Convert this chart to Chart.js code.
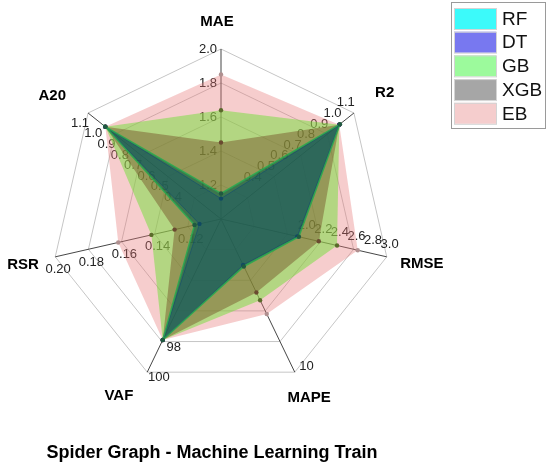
<!DOCTYPE html>
<html>
<head>
<meta charset="utf-8">
<script src="https://cdn.jsdelivr.net/npm/chart.js@4"></script>
<style>
  html, body { margin: 0; padding: 0; background: #fff; }
  #wrap { width: 550px; height: 473px; }
</style>
</head>
<body>
<div id="wrap"><canvas id="chartCanvas"></canvas></div>
<script>
// Axes, clockwise from the top, each with its own range
var axes = ['MAE', 'R2', 'RMSE', 'MAPE', 'VAF', 'RSR', 'A20']
var axisMin = [1.0, 0.1, 1.0, 0, 90, 0.10, 0.1]
var axisMax = [2.0, 1.1, 3.0, 10, 100, 0.20, 1.1]

// Tick labels per axis (the ones that can be read in the picture)
var maeTicks = [1.2, 1.4, 1.6, 1.8, 2.0]
var r2Ticks = [0.4, 0.5, 0.6, 0.7, 0.8, 0.9, 1.0, 1.1]
var rmseTicks = [2.0, 2.2, 2.4, 2.6, 2.8, 3.0]
var mapeTicks = [10]
var vafTicks = [98, 100]
var rsrTicks = [0.12, 0.14, 0.16, 0.18, 0.20]
var a20Ticks = [0.4, 0.5, 0.6, 0.7, 0.8, 0.9, 1.0, 1.1]
var tickDecimals = [1, 1, 1, 0, 0, 2, 1]
var allTicks = [maeTicks, r2Ticks, rmseTicks, mapeTicks, vafTicks, rsrTicks, a20Ticks]

// Model scores, same order as axes
var models = ['RF', 'DT', 'GB', 'XGB', 'EB']
var rfValues  = [1.15, 0.995, 1.94, 3.1, 97.9, 0.116, 0.97]
var dtValues  = [1.12, 0.99,  1.92, 3.0, 97.9, 0.113, 0.97]
var gbValues  = [1.64, 0.99,  2.40, 5.3, 97.9, 0.142, 0.97]
var xgbValues = [1.45, 0.99,  2.18, 4.8, 97.9, 0.128, 0.97]
var ebValues  = [1.85, 0.99,  2.65, 6.2, 97.9, 0.162, 0.97]

var legendColors = ['#3cfafa', '#7878f0', '#9cfa9c', '#a6a6a6', '#f5cdcd']

var font = '"Liberation Sans", Arial, Helvetica, sans-serif'

// put every axis on 0..1 so one radial scale can hold them all
function norm(values) {
    return values.map((v, i) => (v - axisMin[i]) / (axisMax[i] - axisMin[i]))
}

// dataset order = reverse draw order (first one ends up on top)
var datasets = [
    { label: 'RF', data: norm(rfValues), backgroundColor: 'rgba(0,95,70,0.6)',
      borderColor: 'rgba(40,170,80,0.85)', borderWidth: 1.5, pointBackgroundColor: '#1f5a40' },
    { label: 'DT', data: norm(dtValues), backgroundColor: 'rgba(40,40,200,0.3)',
      borderColor: 'rgba(30,30,190,0.5)', borderWidth: 1, pointBackgroundColor: '#2a2a90' },
    { label: 'XGB', data: norm(xgbValues), backgroundColor: 'rgba(115,78,38,0.45)',
      borderColor: 'transparent', borderWidth: 1, pointBackgroundColor: '#6a4a30' },
    { label: 'GB', data: norm(gbValues), backgroundColor: 'rgba(114,223,55,0.5)',
      borderColor: 'transparent', borderWidth: 1, pointBackgroundColor: '#5a6a2a' },
    { label: 'EB', data: norm(ebValues), backgroundColor: 'rgba(230,120,120,0.37)',
      borderColor: 'transparent', borderWidth: 1, pointBackgroundColor: '#b09090' }
]
datasets.forEach(d => {
    d.fill = true
    d.pointRadius = 2.2
    d.pointBorderWidth = 0
})

// per-axis tick labels, drawn under the filled polygons
var axisTicksPlugin = {
    id: 'axisTicks',
    beforeDatasetsDraw(chart) {
        var scale = chart.scales.r
        var ctx = chart.ctx
        ctx.save()
        ctx.font = '13px ' + font
        ctx.fillStyle = '#222'
        ctx.textAlign = 'center'
        ctx.textBaseline = 'middle'
        allTicks.forEach((ticks, i) => {
            var a = scale.getIndexAngle(i)
            var ox = -Math.cos(a) * 13
            var oy = -Math.sin(a) * 13
            ticks.forEach(t => {
                var f = (t - axisMin[i]) / (axisMax[i] - axisMin[i])
                var p = scale.getPointPositionForValue(i, f)
                ctx.fillText(t.toFixed(tickDecimals[i]), p.x + ox, p.y + oy)
            })
        })
        ctx.restore()
    }
}

// axis names, legend box and title
var labelNudge = [[-4, 6], [5, 0], [3, 0], [0, -4], [-14, -6], [0, 1], [-10, 3]]
var decorPlugin = {
    id: 'decor',
    afterDraw(chart) {
        var scale = chart.scales.r
        var ctx = chart.ctx
        ctx.save()
        ctx.fillStyle = '#000'
        ctx.font = 'bold 15px ' + font
        ctx.textAlign = 'center'
        ctx.textBaseline = 'middle'
        axes.forEach((name, i) => {
            var a = scale.getIndexAngle(i)
            var x = scale.xCenter + Math.sin(a) * 203 + labelNudge[i][0]
            var y = scale.yCenter - Math.cos(a) * 203 + labelNudge[i][1]
            ctx.fillText(name, x, y)
        })

        // legend
        ctx.strokeStyle = '#9a9a9a'
        ctx.lineWidth = 1
        ctx.strokeRect(451.5, 2.5, 94, 126)
        ctx.font = '19px ' + font
        ctx.textAlign = 'left'
        models.forEach((m, i) => {
            var y = 8 + i * 23.7
            ctx.fillStyle = legendColors[i]
            ctx.fillRect(454, y, 42, 21)
            ctx.strokeStyle = '#d4d4d4'
            ctx.strokeRect(454.5, y + 0.5, 42, 21)
            ctx.fillStyle = '#111'
            ctx.fillText(m, 502, y + 11.5)
        })

        // title
        ctx.font = 'bold 18px ' + font
        ctx.textAlign = 'center'
        ctx.fillStyle = '#000'
        ctx.fillText('Spider Graph - Machine Learning Train', 212, 453)
        ctx.restore()
    }
}

const ctx = document.getElementById('chartCanvas')
new Chart(ctx, {
    type: 'radar',
    data: { labels: axes, datasets: datasets },
    options: {
        responsive: true,
        maintainAspectRatio: false,
        animation: false,
        // chart area = 340x340 box centred at (221, 219)
        layout: { padding: { left: 51, top: 49, right: 159, bottom: 84 } },
        plugins: {
            legend: { display: false },
            tooltip: { enabled: false }
        },
        scales: {
            r: {
                min: 0,
                max: 1,
                ticks: { stepSize: 0.2, display: false },
                pointLabels: { display: false },
                grid: { color: '#c6c6c6', lineWidth: 1 },
                angleLines: { color: 'rgba(50,50,50,0.9)', lineWidth: 1 }
            }
        }
    },
    plugins: [axisTicksPlugin, decorPlugin]
})
</script>
</body>
</html>
